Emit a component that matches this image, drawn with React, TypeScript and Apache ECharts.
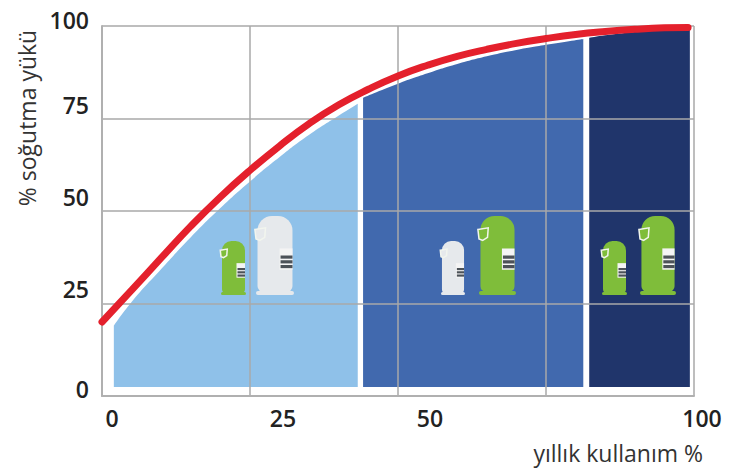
import React, { useEffect, useRef } from "react";
import * as echarts from "echarts";

const xTickLabels = ["0", "25", "50", "100"];
const yTickLabels = ["100", "75", "50", "25", "0"];
const curveX = [0, 5, 10, 15, 20, 25, 30, 35, 40, 45, 50, 55, 60, 65, 70, 75, 80, 85, 90, 95, 99];
const curveY = [20, 28.6, 37.3, 45.9, 53.8, 61, 67.6, 73.6, 78.7, 82.9, 86.5, 89.4, 91.8, 93.7, 95.3, 96.6, 97.7, 98.5, 99.1, 99.5, 99.6];
const lightX = [2, 5, 10, 15, 20, 25, 30, 35, 40, 43.2];
const lightY = [19, 25.4, 34.3, 42.9, 50.8, 58, 64.6, 70.6, 75.8, 79];
const midX = [44.1, 50, 55, 60, 65, 70, 75, 81.3];
const midY = [80.6, 84.4, 87.2, 89.7, 91.8, 93.5, 94.9, 96.5];
const navyX = [82.3, 85, 90, 95, 99.3];
const navyY = [96.8, 97.5, 98.4, 99.2, 99.7];

const GREEN = "#7fbd3a";
const PALE = "#e6e9ec";

function compressor(x: number, y: number, w: number, h: number, fill: string) {
  const foot = Math.max(3, h * 0.05);
  const bodyX = x + w * 0.04;
  const bodyW = w * 0.92;
  const panelX = x + w * 0.62;
  const panelW = w * 0.34;
  const panelY = y + h * 0.41;
  const stripes = [0.5, 0.56, 0.62].map((k) => ({
    type: "rect", z: 12,
    shape: { x: panelX + 1, y: y + h * k, width: panelW - 1, height: h * 0.04 },
    style: { fill: "#4c5258" },
  }));
  return [
    { type: "rect", z: 10, shape: { x: bodyX, y, width: bodyW, height: h - foot + 1, r: [w * 0.38, w * 0.38, w * 0.16, w * 0.16] }, style: { fill } },
    { type: "rect", z: 10, shape: { x, y: y + h - foot, width: w, height: foot, r: 2 }, style: { fill } },
    { type: "rect", z: 11, shape: { x: panelX, y: panelY, width: panelW, height: h * 0.27 }, style: { fill: "#f4f4f4" } },
    ...stripes,
    { type: "polygon", z: 11, shape: { points: [[x - w * 0.03, y + h * 0.17], [x + w * 0.25, y + h * 0.15], [x + w * 0.23, y + h * 0.27], [x + w * 0.1, y + h * 0.31], [x, y + h * 0.29]] }, style: { fill, stroke: "#f2f5ee", lineWidth: 1.5 } },
  ];
}

const xLabelPos = [112, 283, 430, 702];
const yLabelPos = [20, 105, 197, 289, 389];

export default function App() {
  const ref = useRef<HTMLDivElement>(null);
  useEffect(() => {
    document.body.style.margin = "0";
    const chart = echarts.init(ref.current!, undefined, { renderer: "svg" });
    const labelFont = { fontFamily: "Open Sans", fontSize: 23, fontWeight: 600, fill: "#222" };
    const area = (xs: number[], ys: number[], color: string) => ({
      type: "line",
      data: xs.map((v, i) => [v, ys[i]]),
      showSymbol: false,
      smooth: true,
      z: 1,
      lineStyle: { width: 0 },
      areaStyle: { color, opacity: 1, origin: 2.4 },
    });
    chart.setOption({
      animation: false,
      backgroundColor: "#fff",
      grid: { left: 102, right: 44, top: 26, bottom: 73 },
      xAxis: {
        type: "value", min: 0, max: 100, interval: 25, z: 3,
        axisLine: { show: true, lineStyle: { color: "#b0b0b0", width: 2 } },
        axisTick: { show: false }, axisLabel: { show: false },
        splitLine: { show: true, lineStyle: { color: "#a8a8a8", width: 1.5 } },
      },
      yAxis: {
        type: "value", min: 0, max: 100, interval: 25, z: 3,
        axisLine: { show: true, lineStyle: { color: "#b0b0b0", width: 2 } },
        axisTick: { show: false }, axisLabel: { show: false },
        splitLine: { show: true, lineStyle: { color: "#a8a8a8", width: 1.5 } },
      },
      series: [
        area(lightX, lightY, "#8fc1e9"),
        area(midX, midY, "#4169ae"),
        area(navyX, navyY, "#20356b"),
        {
          type: "line",
          data: curveX.map((v, i) => [v, curveY[i]]),
          showSymbol: false, smooth: true, z: 5,
          lineStyle: { color: "#e4202c", width: 7, cap: "round" },
        },
      ],
      graphic: [
        ...compressor(221, 241, 25, 54, GREEN),
        ...compressor(256, 216, 38, 79, PALE),
        ...compressor(441, 241, 24, 54, PALE),
        ...compressor(479, 216, 37, 79, GREEN),
        ...compressor(602, 241, 25, 54, GREEN),
        ...compressor(640, 216, 36, 79, GREEN),
        ...xTickLabels.map((t, i) => ({ type: "text", x: xLabelPos[i], y: 418, style: { text: t, align: "center", verticalAlign: "middle", ...labelFont } })),
        ...yTickLabels.map((t, i) => ({ type: "text", x: 89, y: yLabelPos[i], style: { text: t, align: "right", verticalAlign: "middle", ...labelFont } })),
        { type: "text", x: 703, y: 453, style: { text: "yıllık kullanım %", align: "right", verticalAlign: "middle", fontFamily: "Open Sans", fontSize: 23, fill: "#333" } },
        { type: "text", x: 27, y: 118, rotation: Math.PI / 2, style: { text: "% soğutma yükü", align: "center", verticalAlign: "middle", fontFamily: "Open Sans", fontSize: 23, fill: "#333" } },
      ],
    });
    return () => chart.dispose();
  }, []);
  return <div ref={ref} style={{ width: 738, height: 469 }} />;
}
